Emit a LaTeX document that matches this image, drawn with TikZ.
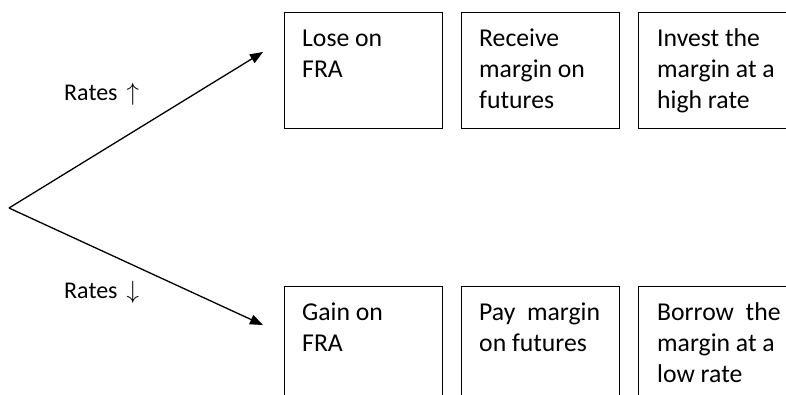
\documentclass[tikz,border=0pt]{standalone}
\usepackage{fontspec}
\setmainfont{Carlito}
\usetikzlibrary{arrows.meta}
\begin{document}
\begin{tikzpicture}[x=1pt,y=-1pt,
  boxshape/.style={draw, line width=1.3pt, minimum width=158pt, minimum height=116pt, anchor=north west, inner sep=0pt},
  boxtext/.style={anchor=north west, inner sep=0pt, align=left, font=\fontsize{25.7}{31}\selectfont},
  ratelabel/.style={anchor=base west, inner sep=0pt, font=\fontsize{24}{29}\selectfont},
  branch/.style={line width=1.3pt, -{Triangle[length=13pt,width=10pt]}}]
\clip (0,0) rectangle (786,394);
\fill[white] (0,0) rectangle (786,394);

% fork
\coordinate (apex) at (9,208);
\coordinate (upend) at (263,52);
\coordinate (downend) at (263,325);
\draw[branch] (apex) -- (upend);
\draw[branch] (apex) -- (downend);
\node[ratelabel] (lup) at (64,100) {Rates\hspace{9pt}{\fontsize{27}{30}\selectfont$\uparrow$}};
\node[ratelabel] (ldown) at (64,298) {Rates\hspace{9pt}{\fontsize{27}{30}\selectfont$\downarrow$}};

% upper row
\node[boxshape] (b1) at (284,12) {};
\node[boxshape] (b2) at (461,12) {};
\node[boxshape] (b3) at (638,12) {};
\node[boxtext] (t1) at ([shift={(18,12.3)}]b1.north west) {\strut Lose on\\FRA};
\node[boxtext] (t2) at ([shift={(18,12.3)}]b2.north west) {\strut Receive\\margin on\\futures};
\node[boxtext] (t3) at ([shift={(19,12.3)}]b3.north west) {\strut Invest the\\margin at a\\high rate};

% lower row
\node[boxshape] (b4) at (284,286) {};
\node[boxshape] (b5) at (461,286) {};
\node[boxshape] (b6) at (638,286) {};
\node[boxtext] (t4) at ([shift={(18,12.3)}]b4.north west) {\strut Gain on\\FRA};
\node[boxtext] (t5) at ([shift={(18,12.3)}]b5.north west) {\strut Pay\ \ margin\\on futures};
\node[boxtext] (t6) at ([shift={(19,12.3)}]b6.north west) {\strut Borrow\ \ the\\margin at a\\low rate};
\end{tikzpicture}
\end{document}
